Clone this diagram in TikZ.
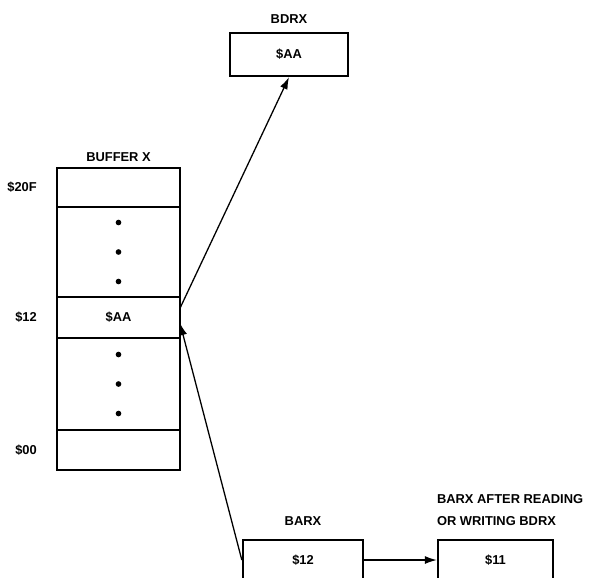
\documentclass[tikz,border=0pt]{standalone}
\usepackage{fontspec}
\setmainfont{Liberation Sans}
\usetikzlibrary{arrows.meta,positioning}

\begin{document}
\begin{tikzpicture}[x=0.03cm,y=-0.03cm,
    font=\fontsize{11}{18.5}\selectfont\bfseries,
    cell/.style={draw,line width=2pt,minimum width=3.69cm,inner sep=0pt,outer sep=0pt},
    reg/.style={draw,line width=2pt,minimum height=1.29cm,inner sep=0pt},
    lbl/.style={inner sep=0pt},
    dot/.style={circle,fill,inner sep=0pt,minimum size=0.17cm},
    arr/.style={-{Latex[length=3.6mm,width=2.4mm]},line width=1.1pt}
  ]
  \useasboundingbox (0,0) rectangle (593,577);
  % buffer x
  \node[cell,minimum height=1.17cm,anchor=north west] (top) at (57,168) {};
  \node[cell,minimum height=2.7cm,below=0pt of top] (upper) {};
  \node[cell,minimum height=1.23cm,below=0pt of upper] (aa) {\$AA};
  \node[cell,minimum height=2.76cm,below=0pt of aa] (lower) {};
  \node[cell,minimum height=1.2cm,below=0pt of lower] (bottom) {};
  \foreach \k in {-1,0,1} {
    \node[dot,yshift=\k*0.885cm] (u\k) at (upper.center) {};
    \node[dot,yshift=\k*0.885cm] (l\k) at (lower.center) {};
  }
  \node[lbl,above=0.18cm of top] (bufname) {BUFFER X};
  \node[lbl,left=0.6cm of top] (a20f) {\$20F};
  \node[lbl,left=0.6cm of aa] (a12) {\$12};
  \node[lbl,left=0.6cm of bottom] (a00) {\$00};
  % registers
  \node[reg,minimum width=3.54cm] (bdrx) at (289,54.5) {\$AA};
  \node[lbl,above=0.24cm of bdrx] (bdrxname) {BDRX};
  \node[reg,minimum width=3.6cm,minimum height=1.2cm] (barx) at (303,560) {\$12};
  \node[lbl,above=0.39cm of barx] (barxname) {BARX};
  \node[reg,minimum width=3.45cm,minimum height=1.2cm] (after) at (495.5,560) {\$11};
  \node[lbl,align=left,above right=0.39cm and 0cm of after.north west] (aftername) {BARX AFTER READING\\OR WRITING BDRX};
  % arrows
  \draw[arr] ([yshift=0.28cm]aa.east) -- (bdrx.south);
  \draw[arr] (barx.west) -- ([yshift=-0.17cm]aa.east);
  \draw[arr] (barx) -- (after);
\end{tikzpicture}
\end{document}
